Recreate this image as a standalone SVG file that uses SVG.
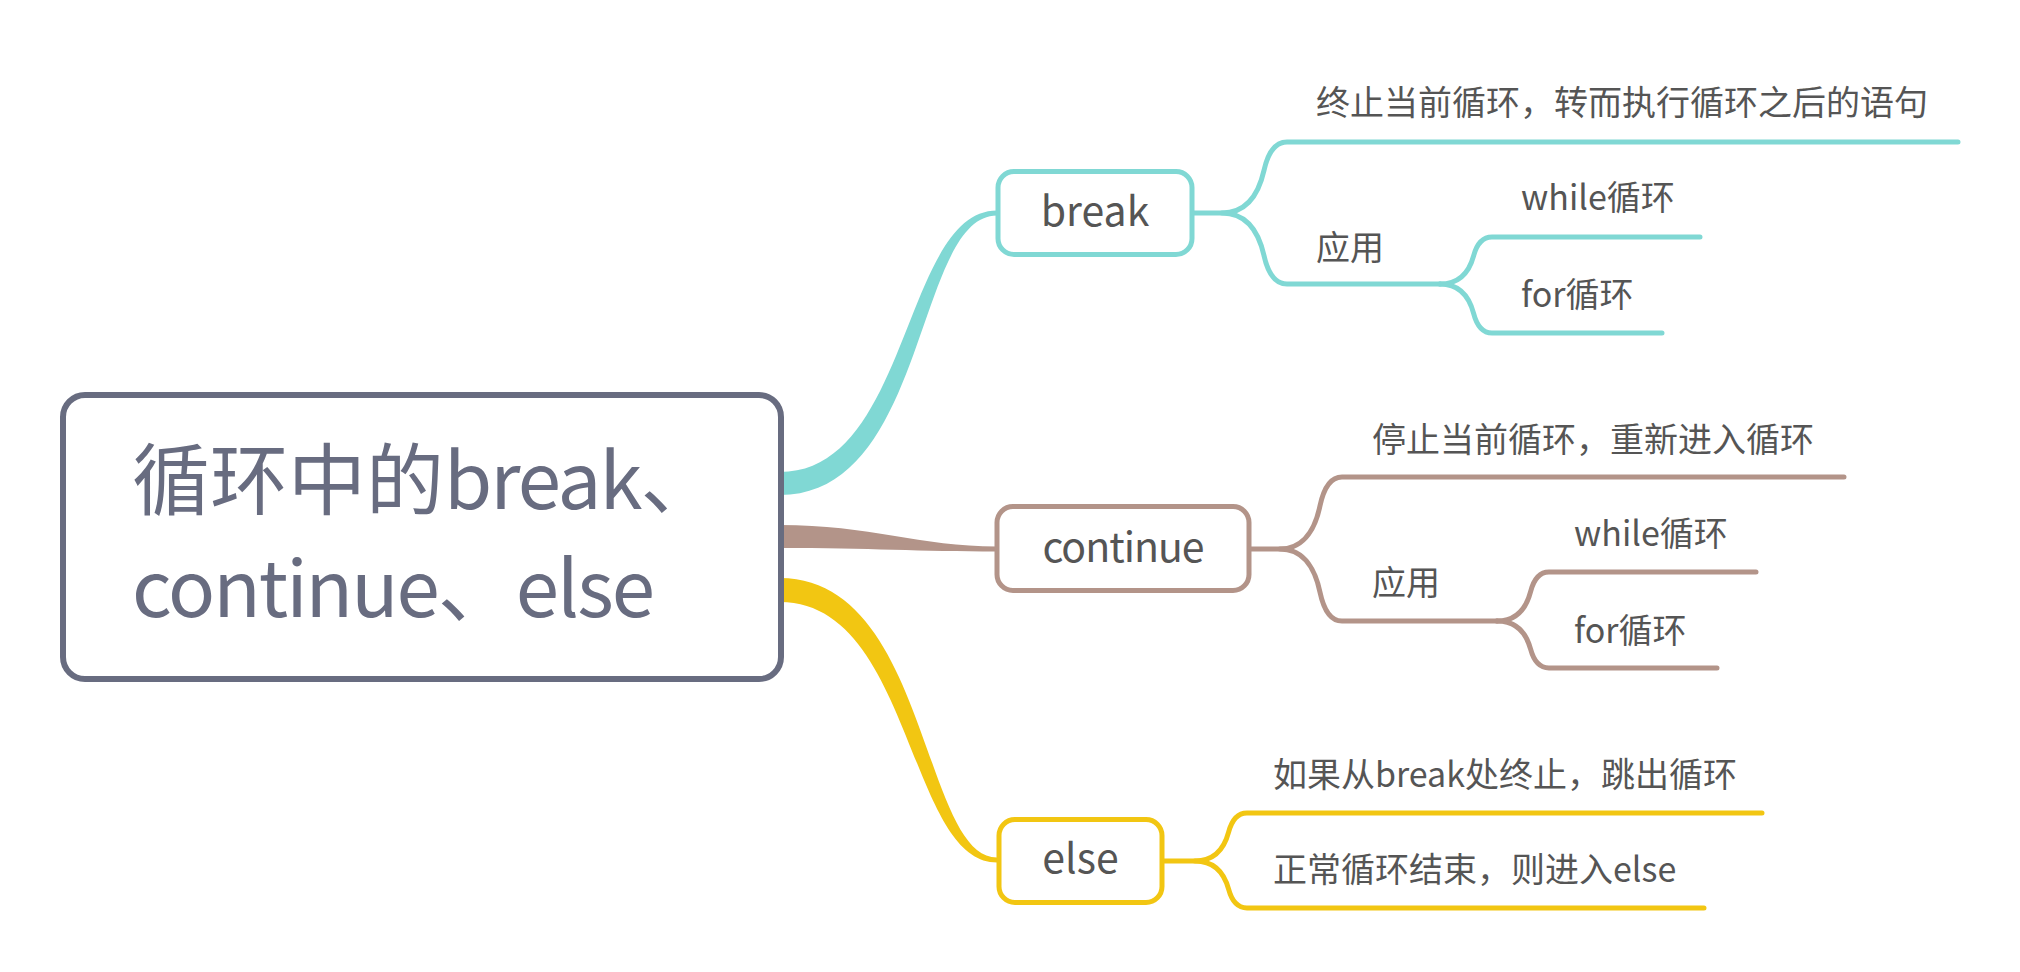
<svg xmlns="http://www.w3.org/2000/svg" width="2020" height="972" viewBox="0 0 2020 972">
<style>
.bg{fill:#ffffff}
.node{fill:#ffffff;stroke-width:5}
.teal{stroke:#80d8d4}
.brown{stroke:#b39489}
.yellow{stroke:#f2c612}
.line{fill:none;stroke-width:5;stroke-linecap:round;stroke-linejoin:round}
.t{font-family:"Noto Sans CJK SC","Noto Sans",sans-serif;fill:#555555}
.child{font-size:34px}
.ntext{font-size:41px;text-anchor:middle}
.root{font-size:78px;fill:#686c80}
.lat{letter-spacing:-2px}
</style>
<rect class="bg" x="0" y="0" width="2020" height="972"/>
<g id="connectors">
  <path fill="#80d8d4" d="M 780 472 C 910 472, 903 210.5, 997 210.5 L 997 215.5 C 915 215.5, 928 495, 780 495 Z"/>
  <path fill="#b39489" d="M 780 525 C 870 525, 920 546.5, 997 546.5 L 997 551.5 C 920 551.5, 870 548, 780 548 Z"/>
  <path fill="#f2c612" d="M 780 578 C 928 578, 922 857.5, 997 857.5 L 997 862.5 C 908 862.5, 912 602, 780 602 Z"/>

  <path class="line teal" d="M 1192 213 L 1222 213 C 1250 213, 1260 188.15, 1264 170.4 C 1266.4 159.75, 1272 142, 1287 142 L 1958 142"/>
  <path class="line teal" d="M 1222 213 C 1250 213, 1260 237.85, 1264 255.6 C 1266.4 266.25, 1272 284, 1287 284 L 1440 284"/>
  <path class="line teal" d="M 1440 284 C 1462.4 284, 1470.4 267.55, 1473.6 255.8 C 1475.5 248.75, 1480 237, 1492 237 L 1700 237"/>
  <path class="line teal" d="M 1440 284 C 1462.4 284, 1470.4 301.15, 1473.6 313.4 C 1475.5 320.75, 1480 333, 1492 333 L 1662 333"/>

  <path class="line brown" d="M 1249 549 L 1280 549 C 1306.7 549, 1316.3 523.8, 1320 505.8 C 1322.3 495, 1327.7 477, 1342 477 L 1844 477"/>
  <path class="line brown" d="M 1280 549 C 1306.7 549, 1316.3 574.2, 1320 592.2 C 1322.3 603, 1327.7 621, 1342 621 L 1497 621"/>
  <path class="line brown" d="M 1497 621 C 1519.4 621, 1527.4 603.85, 1530.6 591.6 C 1532.5 584.25, 1537 572, 1549 572 L 1756 572"/>
  <path class="line brown" d="M 1497 621 C 1519.4 621, 1527.4 637.45, 1530.6 649.2 C 1532.5 656.25, 1537 668, 1549 668 L 1717 668"/>

  <path class="line yellow" d="M 1162 861 L 1195 861 C 1217.4 861, 1225.4 844.2, 1228.6 832.2 C 1230.5 825, 1235 813, 1247 813 L 1762 813"/>
  <path class="line yellow" d="M 1195 861 C 1217.4 861, 1225.4 877.45, 1228.6 889.2 C 1230.5 896.25, 1235 908, 1247 908 L 1704 908"/>
</g>
<g id="root">
  <rect x="63" y="395" width="718" height="284" rx="22" fill="#ffffff" stroke="#686c80" stroke-width="6"/>
  <text class="t root" x="132" y="509">循环中的<tspan class="lat">break</tspan>、</text>
  <text class="t root" x="132" y="617"><tspan class="lat">continue</tspan>、<tspan class="lat">else</tspan></text>
</g>
<g id="node-break">
  <rect class="node teal" x="998" y="171.5" width="194" height="83" rx="16"/>
  <text class="t ntext" x="1095" y="226">break</text>
</g>
<g id="node-break-1"><text class="t child" x="1316" y="115">终止当前循环，转而执行循环之后的语句</text></g>
<g id="node-break-2"><text class="t child" x="1316" y="260">应用</text></g>
<g id="node-break-2-1"><text class="t child" x="1521" y="210">while循环</text></g>
<g id="node-break-2-2"><text class="t child" x="1521" y="307">for循环</text></g>
<g id="node-continue">
  <rect class="node brown" x="997" y="506.5" width="252" height="84" rx="16"/>
  <text class="t ntext" x="1123" y="562" letter-spacing="-1">continue</text>
</g>
<g id="node-continue-1"><text class="t child" x="1372" y="452">停止当前循环，重新进入循环</text></g>
<g id="node-continue-2"><text class="t child" x="1372" y="595">应用</text></g>
<g id="node-continue-2-1"><text class="t child" x="1574" y="546">while循环</text></g>
<g id="node-continue-2-2"><text class="t child" x="1574" y="643">for循环</text></g>
<g id="node-else">
  <rect class="node yellow" x="999" y="819.5" width="163" height="83" rx="16"/>
  <text class="t ntext" x="1080.5" y="873">else</text>
</g>
<g id="node-else-1"><text class="t child" x="1273" y="787">如果从break处终止，跳出循环</text></g>
<g id="node-else-2"><text class="t child" x="1273" y="882">正常循环结束，则进入else</text></g>
</svg>
